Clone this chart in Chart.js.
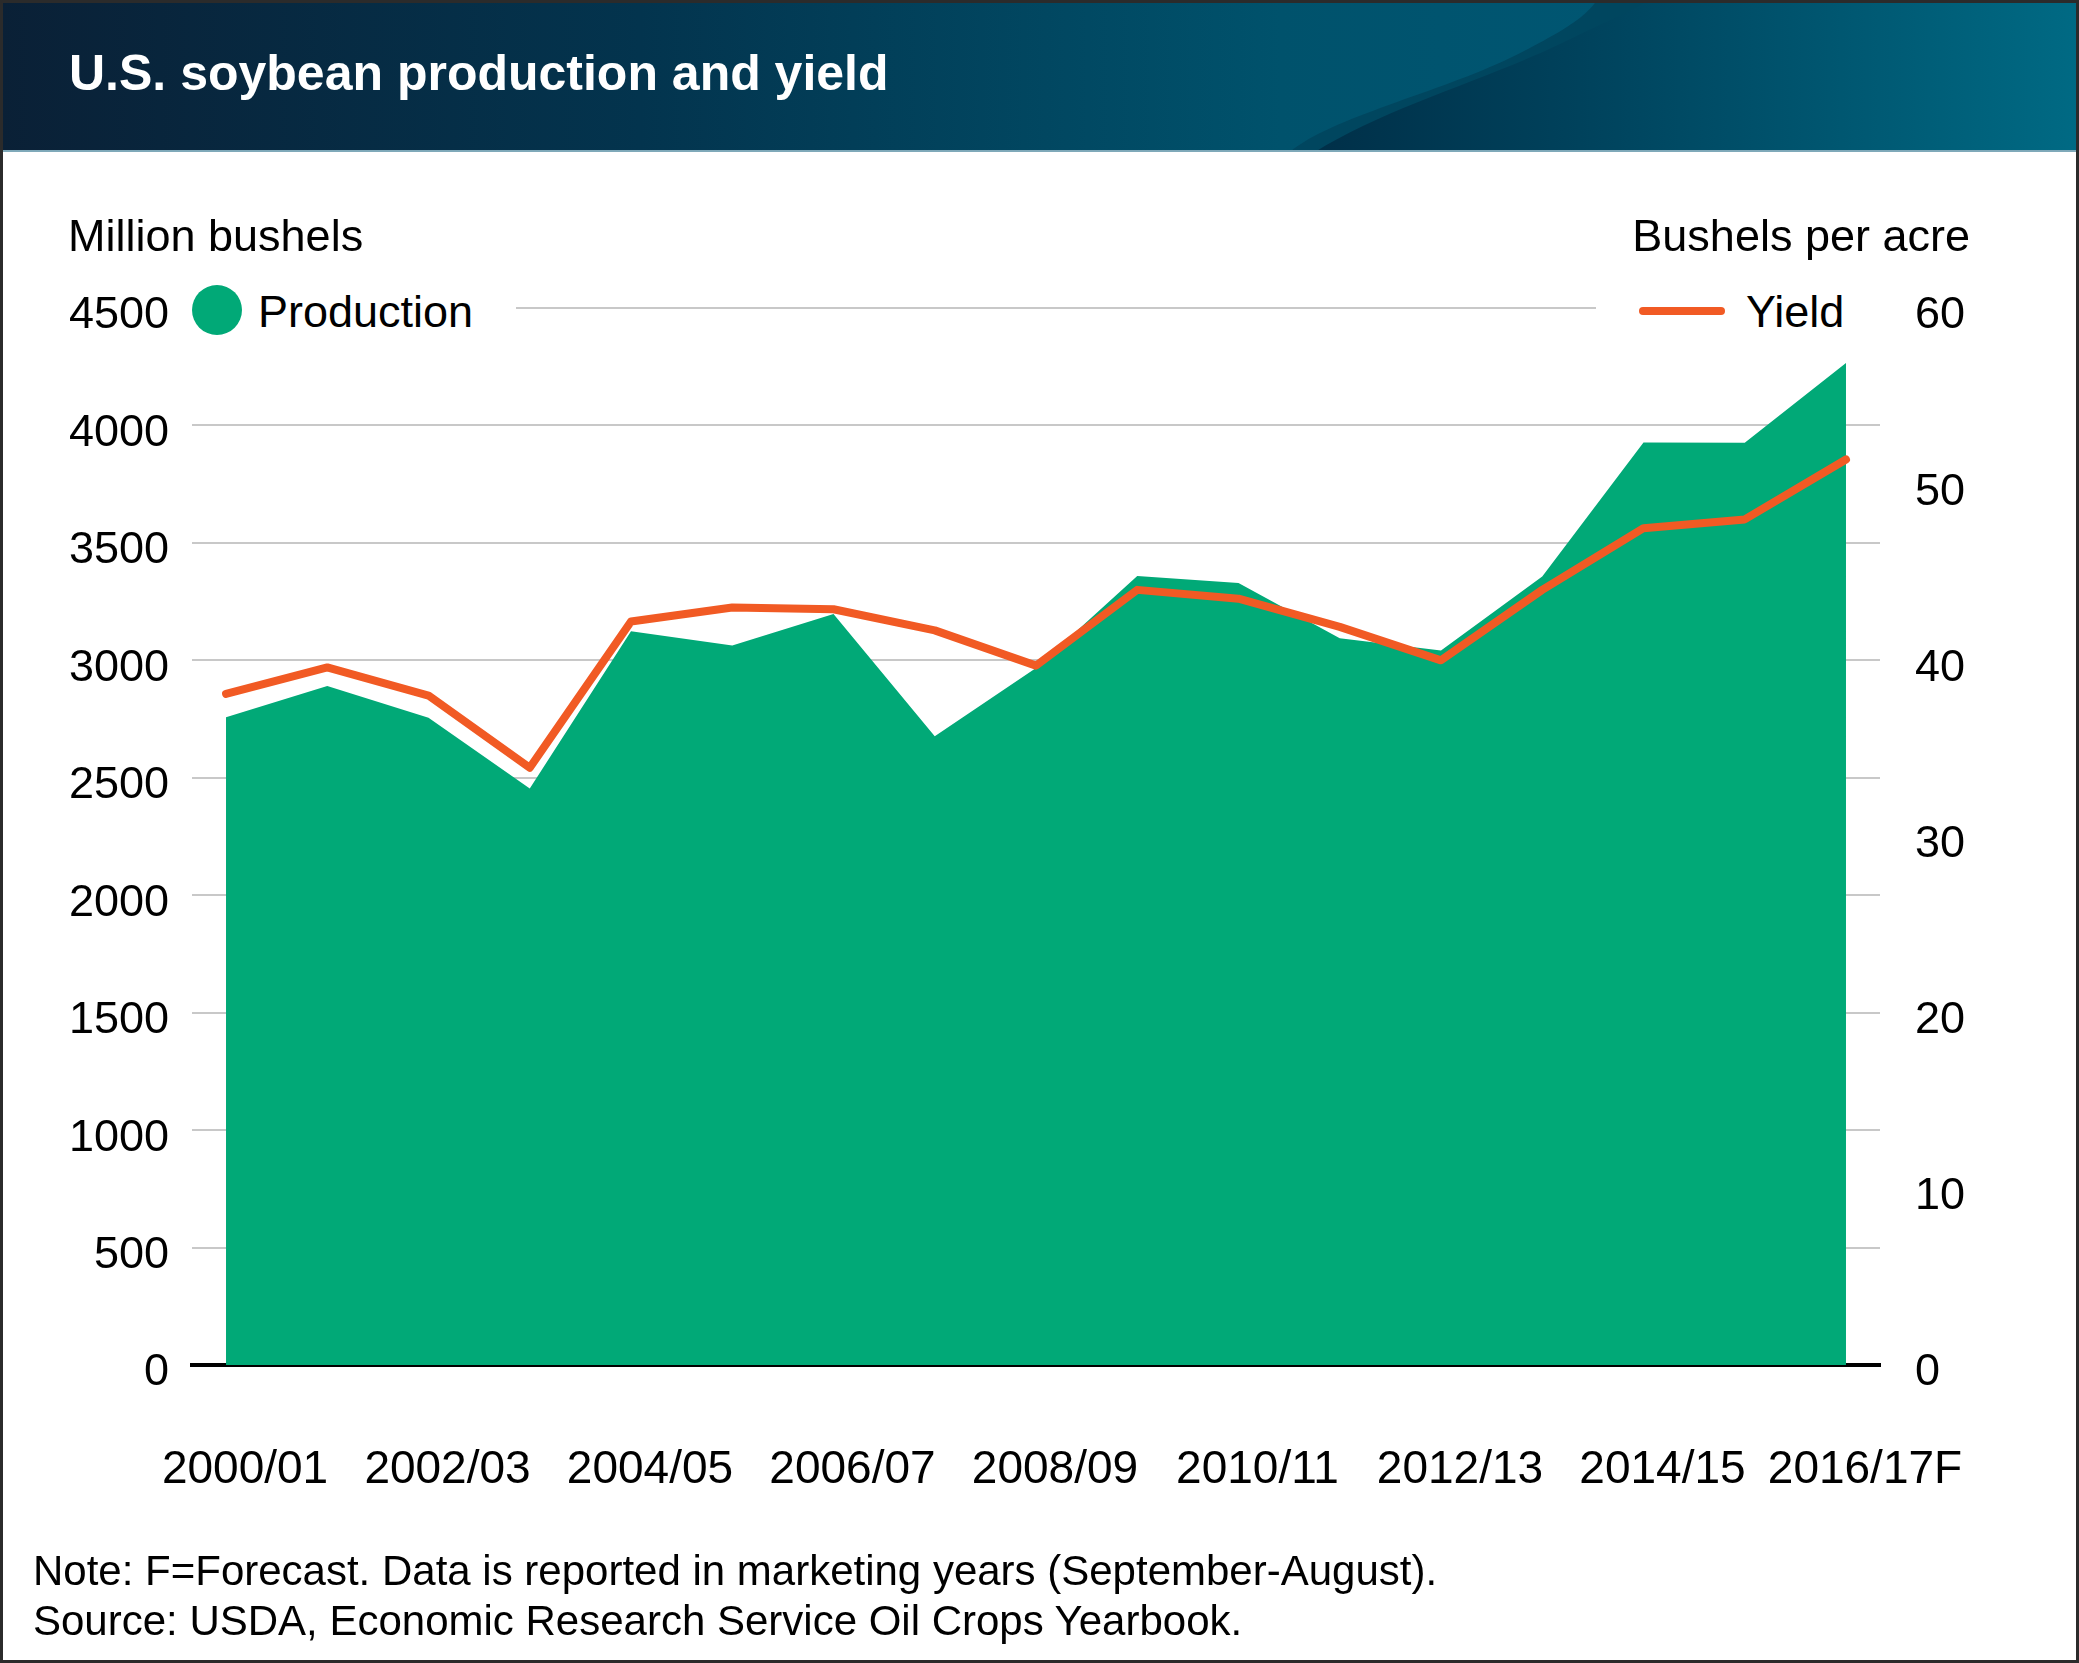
<!DOCTYPE html>
<html>
<head>
<meta charset="utf-8">
<script src="https://cdn.jsdelivr.net/npm/chart.js@4"></script>
<style>
  html, body { margin: 0; padding: 0; background: #fff; }
  body { width: 2079px; height: 1663px; position: relative; overflow: hidden;
         font-family: "Liberation Sans", Arial, Helvetica, sans-serif; color: #000; }
  #header { position: absolute; left: 0; top: 0; width: 2079px; height: 152px; z-index: 0; }
  #title { position: absolute; left: 69px; top: 48px; font-size: 50px; line-height: 50px;
           font-weight: bold; color: #fff; white-space: nowrap; z-index: 4; }
  #chartWrap { position: absolute; left: 0; top: 0; width: 2079px; height: 1663px; z-index: 1; }
  .txt { position: absolute; font-size: 45px; line-height: 45px; white-space: nowrap; z-index: 2; }
  .note { position: absolute; font-size: 42px; line-height: 42px; white-space: nowrap; left: 33px; z-index: 2; }
  .legbox { position: absolute; background: #fff; z-index: 2; }
  #frame { position: absolute; left: 0; top: 0; width: 2079px; height: 1663px; box-sizing: border-box;
           border: 3px solid #2b2b2b; z-index: 5; pointer-events: none; }
</style>
</head>
<body>
<svg id="header" width="2079" height="152" viewBox="0 0 2079 152">
  <defs>
    <linearGradient id="gBase" gradientUnits="userSpaceOnUse" x1="0" y1="0" x2="1600" y2="0">
      <stop offset="0" stop-color="#0a2036"/>
      <stop offset="0.4" stop-color="#03344e"/>
      <stop offset="0.8" stop-color="#00526c"/>
      <stop offset="1" stop-color="#005672"/>
    </linearGradient>
    <linearGradient id="gRight" gradientUnits="userSpaceOnUse" x1="1310" y1="0" x2="2079" y2="0">
      <stop offset="0" stop-color="#002f48"/>
      <stop offset="0.35" stop-color="#00425c"/>
      <stop offset="1" stop-color="#006a84"/>
    </linearGradient>
  </defs>
  <rect x="0" y="0" width="2079" height="152" fill="url(#gBase)"/>
  <path d="M1290,152 C1330,118 1440,92 1510,58 S1590,10 1597,0 L2079,0 L2079,152 Z" fill="#00465f"/>
  <path d="M1315,152 C1385,108 1485,80 1560,44 S1638,8 1648,0 L2079,0 L2079,152 Z" fill="url(#gRight)"/>
  <rect x="0" y="150" width="2079" height="2" fill="#7fa9b9"/>
</svg>
<div id="title">U.S. soybean production and yield</div>

<div id="chartWrap"><canvas id="c" width="2079" height="1663"></canvas></div>

<div class="txt" style="left:68px; top:213px;">Million bushels</div>
<div class="txt" style="right:109px; top:213px;">Bushels per acre</div>

<div class="legbox" style="left:186px; top:280px; width:330px; height:60px;"></div>
<div class="legbox" style="left:1596px; top:280px; width:286px; height:60px;"></div>
<div style="position:absolute; left:192px; top:285px; width:50px; height:50px; border-radius:50%; background:#01a977; z-index:3;"></div>
<div class="txt" style="left:258px; top:289px; z-index:3;">Production</div>
<div style="position:absolute; left:1639px; top:307px; width:86px; height:8px; border-radius:4px; background:#f15a24; z-index:3;"></div>
<div class="txt" style="left:1746px; top:289px; z-index:3;">Yield</div>

<div class="note" style="top:1550px;">Note: F=Forecast. Data is reported in marketing years (September-August).</div>
<div class="note" style="top:1600px;">Source: USDA, Economic Research Service Oil Crops Yearbook.</div>

<div id="frame"></div>

<script>
// ---- Data ----
const categories = ['2000/01','2001/02','2002/03','2003/04','2004/05','2005/06','2006/07','2007/08','2008/09',
                    '2009/10','2010/11','2011/12','2012/13','2013/14','2014/15','2015/16','2016/17F'];
const production = [2758, 2891, 2756, 2454, 3124, 3063, 3197, 2677, 2967, 3359, 3329, 3094, 3042, 3357, 3927, 3926, 4266];
const yieldPerAcre = [38.1, 39.6, 38.0, 33.9, 42.2, 43.0, 42.9, 41.7, 39.7, 44.0, 43.5, 41.9, 40.0, 44.0, 47.5, 48.0, 51.4];
const xTickLabels = ['2000/01','2002/03','2004/05','2006/07','2008/09','2010/11','2012/13','2014/15','2016/17F'];
const leftTicks = [0, 500, 1000, 1500, 2000, 2500, 3000, 3500, 4000, 4500];
const rightTicks = [0, 10, 20, 30, 40, 50, 60];

const GREEN = '#01a977';
const ORANGE = '#f15a24';

Chart.defaults.font.family = '"Liberation Sans", Arial, Helvetica, sans-serif';
Chart.defaults.font.size = 45;
Chart.defaults.color = '#000';

const toXY = (arr) => arr.map((v, i) => ({ x: i, y: v }));

new Chart(document.getElementById('c'), {
  type: 'line',
  data: {
    datasets: [
      { label: 'Yield', data: toXY(yieldPerAcre), yAxisID: 'y1', borderColor: ORANGE, borderWidth: 8,
        borderCapStyle: 'round', borderJoinStyle: 'round', pointRadius: 0, tension: 0, fill: false, order: 0 },
      { label: 'Production', data: toXY(production), yAxisID: 'y', borderWidth: 0, borderColor: GREEN,
        backgroundColor: GREEN, fill: 'origin', pointRadius: 0, tension: 0, order: 1 }
    ]
  },
  options: {
    responsive: false,
    animation: false,
    events: [],
    layout: { padding: { top: 308, left: 0, right: 0, bottom: 0 } },
    plugins: { legend: { display: false }, tooltip: { enabled: false }, title: { display: false } },
    scales: {
      x: {
        type: 'linear', position: 'bottom', min: -0.336, max: categories.length - 1 + 0.336, z: 1,
        grid: { display: false, drawTicks: false },
        border: { display: true, color: '#000', width: 4 },
        afterBuildTicks: (s) => { s.ticks = xTickLabels.map((l) => ({ value: categories.indexOf(l) })); },
        afterFit: (s) => { s.height = 298; },
        ticks: { padding: 78, labelOffset: 19, maxRotation: 0, minRotation: 0, autoSkip: false,
                 font: { size: 46 }, color: '#000',
                 callback: (v) => categories[v] }
      },
      y: {
        position: 'left', min: leftTicks[0], max: leftTicks[leftTicks.length - 1],
        afterBuildTicks: (s) => { s.ticks = leftTicks.map((v) => ({ value: v })); },
        afterFit: (s) => { s.width = 192; },
        grid: { color: '#c8c8c8', lineWidth: 2, drawTicks: false },
        border: { display: false },
        ticks: { padding: 23, labelOffset: 8, font: { size: 45 }, color: '#000', callback: (v) => String(v) }
      },
      y1: {
        position: 'right', min: rightTicks[0], max: rightTicks[rightTicks.length - 1],
        afterBuildTicks: (s) => { s.ticks = rightTicks.map((v) => ({ value: v })); },
        afterFit: (s) => { s.width = 199; },
        grid: { display: false, drawTicks: false },
        border: { display: false },
        ticks: { padding: 35, labelOffset: 8, font: { size: 45 }, color: '#000', callback: (v) => String(v) }
      }
    }
  }
});
</script>
</body>
</html>
